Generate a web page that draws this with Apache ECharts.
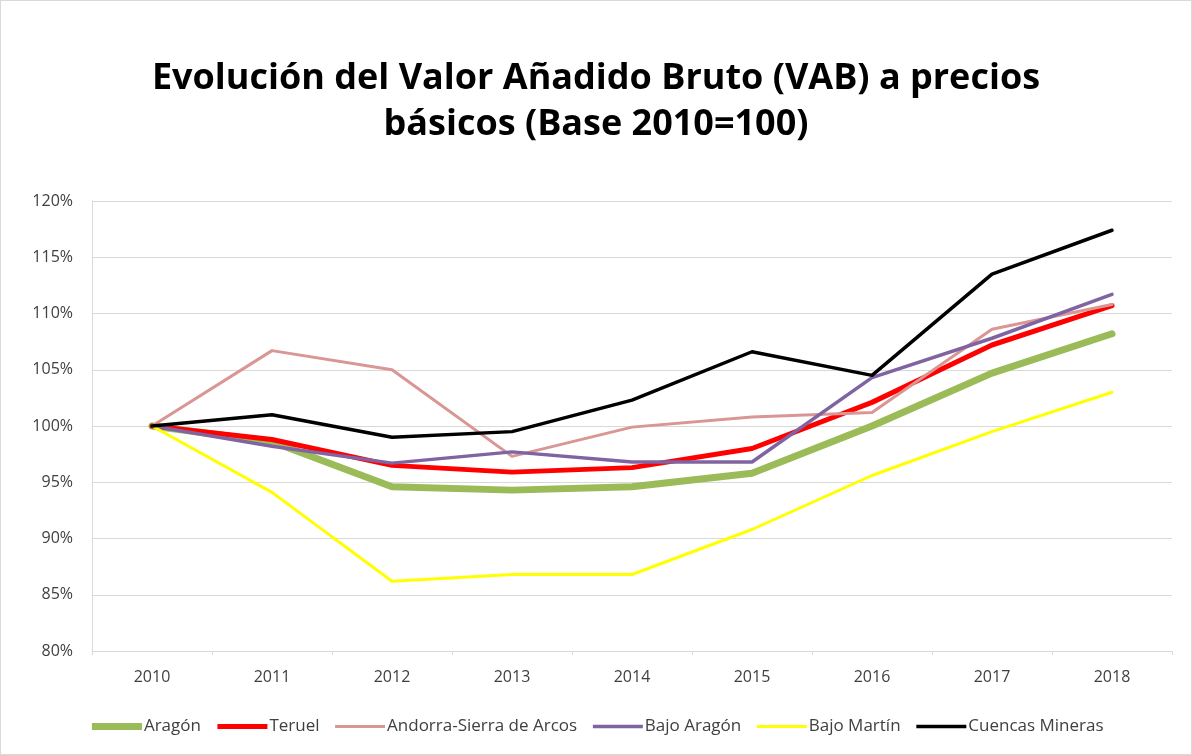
<!DOCTYPE html>
<html>
<head>
<meta charset="utf-8">
<script src="https://cdn.jsdelivr.net/npm/echarts@6/dist/echarts.min.js"></script>
<style>
  html, body { margin: 0; padding: 0; background: #fff; }
  #chart { width: 1192px; height: 755px; box-sizing: border-box; border: 1px solid #d9d9d9; }
</style>
</head>
<body>
<div id="chart"></div>
<script>
// Years on the category axis
const years = ['2010', '2011', '2012', '2013', '2014', '2015', '2016', '2017', '2018'];

// Index values (Base 2010 = 100)
const aragon      = [100, 98.6, 94.6, 94.3, 94.6, 95.8, 100.0, 104.7, 108.2];
const teruel      = [100, 98.8, 96.5, 95.9, 96.3, 98.0, 102.1, 107.2, 110.7];
const andorra     = [100, 106.7, 105.0, 97.3, 99.9, 100.8, 101.2, 108.6, 110.8];
const bajoAragon  = [100, 98.2, 96.7, 97.7, 96.8, 96.8, 104.3, 107.8, 111.7];
const bajoMartin  = [100, 94.1, 86.2, 86.8, 86.8, 90.8, 95.6, 99.5, 103.0];
const cuencas     = [100, 101.0, 99.0, 99.5, 102.3, 106.6, 104.5, 113.5, 117.4];

const seriesNames = ['Aragón', 'Teruel', 'Andorra-Sierra de Arcos', 'Bajo Aragón', 'Bajo Martín', 'Cuencas Mineras'];
const seriesData = [aragon, teruel, andorra, bajoAragon, bajoMartin, cuencas];
const seriesColors = ['#9bbb59', '#ff0000', '#d99694', '#8064a2', '#ffff00', '#000000'];
const seriesWidths = [7, 5, 3, 3.5, 3, 3.5];

const font = '"Open Sans", Calibri, sans-serif';

const chart = echarts.init(document.getElementById('chart'));

const option = {
    animation: false,
    title: {
        text: 'Evolución del Valor Añadido Bruto (VAB) a precios\nbásicos (Base 2010=100)',
        left: 'center',
        top: 50,
        textStyle: {
            fontFamily: font,
            fontWeight: 'bold',
            fontSize: 36,
            lineHeight: 46,
            color: '#000'
        }
    },
    legend: {
        bottom: 14,
        left: 'center',
        itemWidth: 50,
        itemHeight: 14,
        itemGap: 14,
        itemStyle: { opacity: 0 },
        lineStyle: { width: 'inherit', cap: 'butt' },
        textStyle: { fontFamily: font, fontSize: 17, color: '#404040', padding: [0, 0, 0, -3] },
        data: seriesNames
    },
    grid: {
        left: 91,
        right: 19,
        top: 200,
        bottom: 103
    },
    xAxis: {
        type: 'category',
        data: years,
        boundaryGap: true,
        axisLine: { lineStyle: { color: '#d9d9d9', width: 1 } },
        axisTick: { show: true, length: 4, lineStyle: { color: '#d9d9d9' } },
        axisLabel: { fontFamily: font, fontSize: 16, color: '#404040', margin: 18 }
    },
    yAxis: {
        type: 'value',
        min: 80,
        max: 120,
        interval: 5,
        axisLine: { show: true, lineStyle: { color: '#d9d9d9' } },
        axisTick: { show: false },
        splitLine: { lineStyle: { color: '#d9d9d9', width: 1 } },
        axisLabel: {
            fontFamily: font,
            fontSize: 16,
            color: '#404040',
            margin: 19,
            formatter: v => v + '%'
        }
    },
    series: seriesNames.map((name, i) => ({
        name: name,
        type: 'line',
        data: seriesData[i],
        symbol: 'none',
        smooth: false,
        color: seriesColors[i],
        lineStyle: {
            color: seriesColors[i],
            width: seriesWidths[i],
            cap: 'round',
            join: 'round'
        },
        z: 2 + i
    }))
};

chart.setOption(option);
</script>
</body>
</html>
